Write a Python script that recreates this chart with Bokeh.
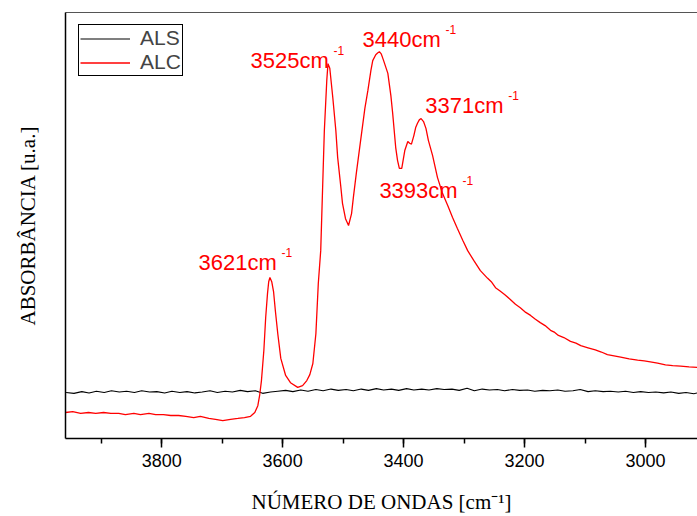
from bokeh.plotting import figure
from bokeh.models import (Range1d, LinearAxis, FixedTicker, SingleIntervalTicker,
                          Legend, LegendItem, ColumnDataSource)
from bokeh.core.properties import value
from bokeh.embed import file_html
from bokeh.resources import INLINE

# ALC spectrum: (wavenumber cm-1, absorbance a.u.)
alc_points = [
    (3959, 0.061), (3947, 0.063), (3934, 0.059), (3921, 0.061), (3909, 0.059),
    (3896, 0.061), (3884, 0.059), (3871, 0.059), (3860, 0.056), (3846, 0.059),
    (3835, 0.056), (3821, 0.059), (3810, 0.056), (3797, 0.056), (3785, 0.054),
    (3772, 0.054), (3760, 0.052), (3747, 0.049), (3736, 0.052), (3722, 0.047),
    (3711, 0.045), (3699, 0.042), (3686, 0.045), (3674, 0.047), (3663, 0.049),
    (3653, 0.052), (3646, 0.061), (3641, 0.077), (3638, 0.101), (3635, 0.136),
    (3631, 0.207), (3628, 0.284), (3625, 0.340), (3623, 0.368), (3621, 0.378),
    (3618, 0.368), (3615, 0.345), (3612, 0.300), (3608, 0.246), (3603, 0.188),
    (3595, 0.148), (3587, 0.131), (3575, 0.120), (3567, 0.124), (3560, 0.136),
    (3555, 0.150), (3550, 0.176), (3545, 0.246), (3541, 0.364), (3537, 0.441),
    (3534, 0.582), (3531, 0.723), (3527, 0.840), (3525, 0.880), (3522, 0.869),
    (3517, 0.800), (3512, 0.723), (3509, 0.660), (3504, 0.594), (3501, 0.552),
    (3496, 0.516), (3491, 0.500), (3486, 0.528), (3483, 0.566), (3478, 0.624),
    (3471, 0.700), (3464, 0.775), (3459, 0.817), (3454, 0.864), (3451, 0.887),
    (3446, 0.901), (3443, 0.905), (3440, 0.908), (3437, 0.903), (3433, 0.887),
    (3426, 0.857), (3421, 0.805), (3418, 0.763), (3413, 0.683), (3410, 0.653),
    (3407, 0.634), (3403, 0.634), (3398, 0.676), (3393, 0.697), (3390, 0.693),
    (3387, 0.691), (3383, 0.711), (3380, 0.730), (3377, 0.740), (3374, 0.748),
    (3371, 0.751), (3367, 0.744), (3363, 0.728), (3359, 0.700), (3352, 0.664),
    (3344, 0.613), (3336, 0.577), (3327, 0.547), (3319, 0.519), (3311, 0.493),
    (3302, 0.465), (3294, 0.441), (3284, 0.418), (3273, 0.394), (3261, 0.376),
    (3255, 0.368), (3248, 0.354), (3241, 0.347), (3233, 0.338), (3224, 0.327),
    (3215, 0.315), (3207, 0.307), (3198, 0.296), (3190, 0.289), (3182, 0.280),
    (3174, 0.272), (3166, 0.265), (3157, 0.254), (3150, 0.249), (3144, 0.242),
    (3135, 0.237), (3124, 0.228), (3115, 0.224), (3107, 0.218), (3095, 0.213),
    (3083, 0.208), (3073, 0.203), (3063, 0.197), (3052, 0.194), (3041, 0.191),
    (3027, 0.187), (3013, 0.184), (3002, 0.182), (2992, 0.180), (2980, 0.177),
    (2967, 0.173), (2955, 0.171), (2942, 0.170), (2928, 0.168), (2914, 0.167),
]

# ALS spectrum: (wavenumber cm-1, absorbance a.u.)
als_points = [
    (3958, 0.108), (3945, 0.106), (3932, 0.110), (3920, 0.107), (3908, 0.111),
    (3895, 0.108), (3883, 0.112), (3870, 0.109), (3858, 0.111), (3845, 0.108),
    (3833, 0.112), (3820, 0.109), (3808, 0.110), (3795, 0.107), (3783, 0.111),
    (3770, 0.108), (3758, 0.110), (3745, 0.107), (3733, 0.109), (3720, 0.112),
    (3708, 0.108), (3695, 0.111), (3683, 0.109), (3670, 0.113), (3658, 0.110),
    (3645, 0.112), (3633, 0.106), (3620, 0.109), (3608, 0.111), (3595, 0.113),
    (3583, 0.110), (3570, 0.114), (3558, 0.111), (3545, 0.115), (3533, 0.112),
    (3520, 0.116), (3508, 0.113), (3495, 0.115), (3483, 0.112), (3470, 0.116),
    (3458, 0.113), (3445, 0.117), (3433, 0.114), (3420, 0.116), (3408, 0.113),
    (3395, 0.117), (3383, 0.114), (3370, 0.116), (3358, 0.114), (3345, 0.117),
    (3333, 0.115), (3320, 0.116), (3308, 0.113), (3295, 0.118), (3283, 0.112),
    (3270, 0.116), (3258, 0.114), (3245, 0.115), (3233, 0.112), (3220, 0.115),
    (3208, 0.113), (3195, 0.114), (3183, 0.111), (3170, 0.113), (3158, 0.112),
    (3145, 0.114), (3133, 0.111), (3120, 0.112), (3108, 0.115), (3095, 0.110),
    (3083, 0.112), (3070, 0.110), (3058, 0.111), (3045, 0.109), (3033, 0.111),
    (3020, 0.108), (3008, 0.110), (2995, 0.108), (2983, 0.109), (2970, 0.107),
    (2958, 0.109), (2945, 0.106), (2933, 0.108), (2920, 0.105), (2914, 0.107),
]

# Peak annotations
peak_texts = ["3621cm", "3525cm", "3440cm", "3371cm", "3393cm"]
peak_x = [3739, 3653, 3468, 3364, 3440]
peak_y = [0.413, 0.888, 0.937, 0.782, 0.583]

series_names = ["ALS", "ALC"]

alc_wn, alc_abs = zip(*alc_points)
als_wn, als_abs = zip(*als_points)

p = figure(width=697, height=516, x_range=Range1d(3959, 2914), y_range=Range1d(0, 1),
           output_backend="svg", toolbar_location=None,
           min_border_left=65, min_border_right=0, min_border_top=12, min_border_bottom=78)
p.grid.visible = False
p.outline_line_color = None
p.background_fill_color = "white"

r_als = p.line(list(als_wn), list(als_abs), line_color="black", line_width=1.1)
r_alc = p.line(list(alc_wn), list(alc_abs), line_color="#ff0000", line_width=1.3)

xa = p.xaxis[0]
xa.ticker = SingleIntervalTicker(interval=200, num_minor_ticks=2)
xa.major_tick_out = 9
xa.major_tick_in = 0
xa.minor_tick_out = 5
xa.minor_tick_in = 0
xa.major_tick_line_width = 1.5
xa.minor_tick_line_width = 1.5
xa.axis_line_width = 1.5
xa.axis_line_color = "black"
xa.major_tick_line_color = "black"
xa.minor_tick_line_color = "black"
xa.major_label_text_font = "Liberation Sans"
xa.major_label_text_font_size = "18px"
xa.major_label_text_color = "black"
xa.major_label_standoff = 6
xa.axis_label = "NÚMERO DE ONDAS [cm⁻¹]"
xa.axis_label_text_font = "Liberation Serif"
xa.axis_label_text_font_size = "21px"
xa.axis_label_text_font_style = "normal"
xa.axis_label_text_color = "black"
xa.axis_label_standoff = 20

ya = p.yaxis[0]
ya.ticker = FixedTicker(ticks=[])
ya.major_tick_out = 0
ya.major_tick_in = 0
ya.minor_tick_out = 0
ya.minor_tick_in = 0
ya.major_label_standoff = 0
ya.axis_line_width = 1.5
ya.axis_line_color = "black"
ya.axis_label = "ABSORBÂNCIA [u.a.]"
ya.axis_label_text_font = "Liberation Serif"
ya.axis_label_text_font_size = "21px"
ya.axis_label_text_font_style = "normal"
ya.axis_label_text_color = "black"
ya.axis_label_standoff = 26

top = LinearAxis(ticker=FixedTicker(ticks=[]), major_tick_out=0, major_tick_in=0,
                 minor_tick_out=0, minor_tick_in=0, major_label_standoff=0,
                 major_label_text_font_size="0px", axis_line_color="#555555",
                 axis_line_width=1)
p.add_layout(top, "above")

src = ColumnDataSource(dict(x=peak_x, y=peak_y, t=peak_texts, s=["-1"] * len(peak_texts)))
p.text(x="x", y="y", text="t", source=src, text_color="#ff0000",
       text_font=value("Liberation Sans"), text_font_size="22px",
       text_align="left", text_baseline="alphabetic")
p.text(x="x", y="y", text="s", source=src, text_color="#ff0000",
       text_font=value("Liberation Sans"), text_font_size="12px",
       text_align="left", text_baseline="alphabetic", x_offset=83, y_offset=-10)

legend = Legend(items=[LegendItem(label=series_names[0], renderers=[r_als]),
                       LegendItem(label=series_names[1], renderers=[r_alc])],
                location=(13, 362), padding=1, spacing=0,
                label_height=23, glyph_height=23, glyph_width=50, label_standoff=10,
                label_text_font="Liberation Sans", label_text_font_size="21px",
                border_line_color="black", border_line_width=1, border_line_alpha=1,
                background_fill_color="white", background_fill_alpha=1)
p.add_layout(legend)

open("out.html", "w").write(file_html(p, INLINE))
